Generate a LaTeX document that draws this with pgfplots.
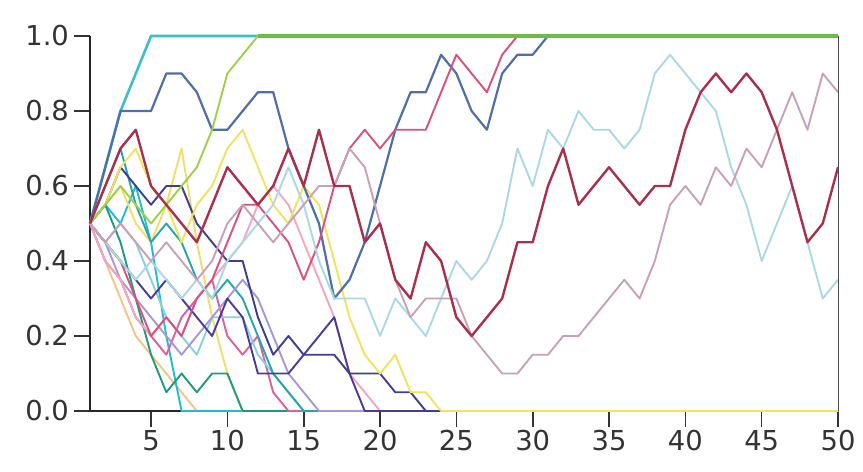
\documentclass[border=0pt]{standalone}
\usepackage{pgfplots}
\pgfplotsset{compat=1.18}
\usepackage{fontspec}
\setmainfont{DejaVu Sans}
\definecolor{cyanup}{HTML}{3BBFD0}
\definecolor{steel}{HTML}{4F6FA8}
\definecolor{grn}{HTML}{6CBD45}
\definecolor{pinkp}{HTML}{D9507F}
\definecolor{crimson}{HTML}{A8304A}
\definecolor{lblue}{HTML}{A9D8E8}
\definecolor{mauve}{HTML}{C9A0B8}
\definecolor{yel}{HTML}{F2E25C}
\definecolor{navya}{HTML}{3A3F8F}
\definecolor{navyb}{HTML}{4A3C96}
\definecolor{lav}{HTML}{A896D6}
\definecolor{lpink}{HTML}{F4A6C0}
\definecolor{lcyan}{HTML}{88D0E0}
\definecolor{teal2}{HTML}{27A6A6}
\definecolor{mag}{HTML}{DD5FA0}
\definecolor{lorange}{HTML}{F6C48A}
\definecolor{yel2}{HTML}{F3DC6A}
\definecolor{cyan2}{HTML}{20BCD6}
\definecolor{tgreen}{HTML}{1F9A7E}
\begin{document}
\begin{tikzpicture}
\begin{axis}[
  scale only axis,
  width=374pt, height=187.5pt,
  xmin=1, xmax=50, ymin=0, ymax=1,
  axis x line*=bottom, axis y line*=left,
  axis line style={line width=1.3pt, black!85},
  xtick={5,10,...,50},
  ytick={0,0.2,0.4,0.6,0.8,1.0},
  tick align=outside,
  major tick length=8pt,
  tick style={line width=0.8pt, black!80},
  yticklabel style={/pgf/number format/fixed,/pgf/number format/fixed zerofill,/pgf/number format/precision=1},
  /pgf/number format/assume math mode=true,
  ticklabel style={font=\fontsize{13.7}{16}\selectfont, text=black!80},
  xticklabel shift=-2pt,
  yticklabel shift=-1pt,
  clip=false,
  every axis plot/.append style={line width=0.95pt, line join=round},
  after end axis/.code={
    \draw[black!70, line width=0.5pt] (rel axis cs:1,0) -- (rel axis cs:1,1);
    \path (rel axis cs:-0.1203,-0.16) rectangle (rel axis cs:1.0334,1.096);
  },
]
% early dying lines
\addplot[lorange] coordinates {(1,0.5)(2,0.4)(3,0.3)(4,0.2)(5,0.15)(6,0.1)(7,0.05)(8,0)(50,0)};
\addplot[cyan2] coordinates {(1,0.5)(2,0.55)(3,0.5)(4,0.6)(5,0.45)(6,0.2)(7,0)(50,0)};
\addplot[yel2] coordinates {(1,0.5)(2,0.55)(3,0.6)(4,0.5)(5,0.45)(6,0.55)(7,0.7)(8,0.45)(9,0.25)(10,0.1)(11,0)(50,0)};
\addplot[tgreen] coordinates {(1,0.5)(2,0.55)(3,0.45)(4,0.3)(5,0.15)(6,0.05)(7,0.1)(8,0.05)(9,0.1)(10,0.1)(11,0)(50,0)};
\addplot[mag] coordinates {(1,0.5)(2,0.4)(3,0.35)(4,0.25)(5,0.2)(6,0.15)(7,0.25)(8,0.3)(9,0.35)(10,0.2)(11,0.15)(12,0.2)(13,0.05)(14,0)(50,0)};
\addplot[lcyan] coordinates {(1,0.5)(2,0.45)(3,0.5)(4,0.45)(5,0.35)(6,0.25)(7,0.2)(8,0.15)(9,0.25)(10,0.25)(11,0.25)(12,0.15)(13,0.1)(14,0.05)(15,0)(50,0)};
\addplot[teal2] coordinates {(1,0.5)(2,0.6)(3,0.7)(4,0.55)(5,0.45)(6,0.5)(7,0.45)(8,0.35)(9,0.3)(10,0.35)(11,0.3)(12,0.2)(13,0.1)(14,0.05)(15,0)(50,0)};
\addplot[lav] coordinates {(1,0.5)(2,0.45)(3,0.35)(4,0.3)(5,0.25)(6,0.2)(7,0.15)(8,0.2)(9,0.25)(10,0.3)(11,0.35)(12,0.3)(13,0.2)(14,0.1)(15,0.05)(16,0)(50,0)};
\addplot[lpink] coordinates {(1,0.5)(2,0.4)(3,0.35)(4,0.25)(5,0.2)(6,0.25)(7,0.2)(8,0.3)(9,0.35)(10,0.4)(11,0.45)(12,0.55)(13,0.6)(14,0.55)(15,0.45)(16,0.35)(17,0.25)(18,0.1)(19,0.05)(20,0)(50,0)};
\addplot[navyb] coordinates {(1,0.5)(2,0.45)(3,0.4)(4,0.35)(5,0.3)(6,0.35)(7,0.3)(8,0.25)(9,0.2)(10,0.3)(11,0.25)(12,0.1)(13,0.1)(14,0.1)(15,0.15)(16,0.2)(17,0.25)(18,0.1)(19,0)(50,0)};
\addplot[navya] coordinates {(1,0.5)(2,0.55)(3,0.65)(4,0.6)(5,0.55)(6,0.6)(7,0.6)(8,0.5)(9,0.45)(10,0.4)(11,0.4)(12,0.25)(13,0.15)(14,0.2)(15,0.15)(16,0.15)(17,0.15)(18,0.1)(19,0.1)(20,0.1)(21,0.05)(22,0.05)(23,0)(50,0)};
\addplot[yel] coordinates {(1,0.5)(2,0.55)(3,0.65)(4,0.7)(5,0.6)(6,0.55)(7,0.45)(8,0.55)(9,0.6)(10,0.7)(11,0.75)(12,0.65)(13,0.55)(14,0.5)(15,0.6)(16,0.55)(17,0.4)(18,0.25)(19,0.15)(20,0.1)(21,0.15)(22,0.05)(23,0.05)(24,0)(50,0)};
% fixed at 1
\addplot[cyanup, line width=1.3pt] coordinates {(1,0.5)(2,0.65)(3,0.8)(4,0.9)(5,1)(50,1)};
\addplot[steel, line width=1.1pt] coordinates {(1,0.5)(2,0.65)(3,0.8)(4,0.8)(5,0.8)(6,0.9)(7,0.9)(8,0.85)(9,0.75)(10,0.75)(11,0.8)(12,0.85)(13,0.85)(14,0.7)(15,0.6)(16,0.5)(17,0.3)(18,0.35)(19,0.45)(20,0.6)(21,0.75)(22,0.85)(23,0.85)(24,0.95)(25,0.9)(26,0.8)(27,0.75)(28,0.9)(29,0.95)(30,0.95)(31,1)(50,1)};
\addplot[pinkp] coordinates {(1,0.5)(2,0.45)(3,0.4)(4,0.3)(5,0.2)(6,0.25)(7,0.2)(8,0.3)(9,0.35)(10,0.45)(11,0.55)(12,0.55)(13,0.5)(14,0.45)(15,0.35)(16,0.45)(17,0.6)(18,0.7)(19,0.75)(20,0.7)(21,0.75)(22,0.75)(23,0.75)(24,0.85)(25,0.95)(26,0.9)(27,0.85)(28,0.95)(29,1)(50,1)};
\addplot[grn!75!yellow!90!white] coordinates {(1,0.5)(2,0.55)(3,0.6)(4,0.55)(5,0.5)(6,0.55)(7,0.6)(8,0.65)(9,0.75)(10,0.9)(11,0.95)(12,1)};
\addplot[grn, line width=1.8pt] coordinates {(12,1)(50,1)};
% survivors
\addplot[lblue] coordinates {(1,0.5)(2,0.45)(3,0.4)(4,0.35)(5,0.4)(6,0.35)(7,0.3)(8,0.35)(9,0.3)(10,0.4)(11,0.45)(12,0.5)(13,0.55)(14,0.65)(15,0.55)(16,0.4)(17,0.3)(18,0.3)(19,0.3)(20,0.2)(21,0.3)(22,0.25)(23,0.2)(24,0.3)(25,0.4)(26,0.35)(27,0.4)(28,0.5)(29,0.7)(30,0.6)(31,0.75)(32,0.7)(33,0.8)(34,0.75)(35,0.75)(36,0.7)(37,0.75)(38,0.9)(39,0.95)(40,0.9)(41,0.85)(42,0.8)(43,0.65)(44,0.55)(45,0.4)(46,0.5)(47,0.6)(48,0.45)(49,0.3)(50,0.35)};
\addplot[mauve] coordinates {(1,0.5)(2,0.45)(3,0.5)(4,0.45)(5,0.4)(6,0.45)(7,0.4)(8,0.35)(9,0.4)(10,0.5)(11,0.55)(12,0.5)(13,0.45)(14,0.5)(15,0.55)(16,0.6)(17,0.6)(18,0.7)(19,0.65)(20,0.5)(21,0.35)(22,0.25)(23,0.3)(24,0.3)(25,0.3)(26,0.2)(27,0.15)(28,0.1)(29,0.1)(30,0.15)(31,0.15)(32,0.2)(33,0.2)(34,0.25)(35,0.3)(36,0.35)(37,0.3)(38,0.4)(39,0.55)(40,0.6)(41,0.55)(42,0.65)(43,0.6)(44,0.7)(45,0.65)(46,0.75)(47,0.85)(48,0.75)(49,0.9)(50,0.85)};
\addplot[crimson, line width=1.2pt] coordinates {(1,0.5)(2,0.6)(3,0.7)(4,0.75)(5,0.6)(6,0.55)(7,0.5)(8,0.45)(9,0.55)(10,0.65)(11,0.6)(12,0.55)(13,0.6)(14,0.7)(15,0.6)(16,0.75)(17,0.6)(18,0.6)(19,0.45)(20,0.5)(21,0.35)(22,0.3)(23,0.45)(24,0.4)(25,0.25)(26,0.2)(27,0.25)(28,0.3)(29,0.45)(30,0.45)(31,0.6)(32,0.7)(33,0.55)(34,0.6)(35,0.65)(36,0.6)(37,0.55)(38,0.6)(39,0.6)(40,0.75)(41,0.85)(42,0.9)(43,0.85)(44,0.9)(45,0.85)(46,0.75)(47,0.6)(48,0.45)(49,0.5)(50,0.65)};
\end{axis}
\end{tikzpicture}
\end{document}
